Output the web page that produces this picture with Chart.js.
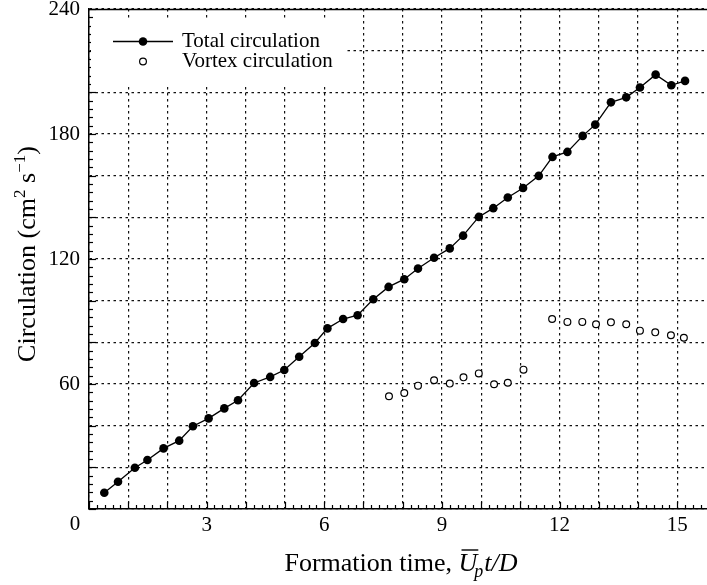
<!DOCTYPE html>
<html>
<head>
<meta charset="utf-8">
<script src="https://cdn.jsdelivr.net/npm/chart.js@4.4.1/dist/chart.umd.min.js"></script>
<style>
  html, body { margin: 0; padding: 0; background: #fff; overflow: hidden; }
  #wrap { width: 707px; height: 585px; }
</style>
</head>
<body>
<div id="wrap"><canvas id="myChart" width="707" height="585"></canvas></div>
<script>
// formation time and circulation
var totalTime = [0.39, 0.74, 1.17, 1.49, 1.90, 2.30, 2.65, 3.05, 3.45, 3.80,
                 4.21, 4.62, 4.98, 5.36, 5.76, 6.08, 6.48, 6.85, 7.25, 7.64,
                 8.04, 8.39, 8.80, 9.20, 9.54, 9.94, 10.31, 10.68, 11.07, 11.47,
                 11.82, 12.20, 12.59, 12.91, 13.31, 13.70, 14.05, 14.45, 14.85, 15.20];
var totalCirc = [7.8, 13.1, 19.8, 23.5, 29.1, 32.8, 39.7, 43.5, 48.3, 52.2,
                 60.5, 63.4, 66.7, 73.1, 79.7, 86.7, 91.2, 93.0, 100.7, 106.6,
                 110.3, 115.4, 120.6, 125.1, 131.2, 140.2, 144.4, 149.5, 154.1, 159.9,
                 169.0, 171.4, 179.1, 184.5, 195.2, 197.6, 202.3, 208.5, 203.4, 205.5];

var vortexTime = [7.65, 8.04, 8.39, 8.80, 9.20, 9.55, 9.94, 10.33, 10.68, 11.08,
                  11.81, 12.20, 12.58, 12.93, 13.31, 13.70, 14.05, 14.44, 14.84, 15.17];
var vortexCirc = [54.1, 55.7, 59.2, 61.8, 60.2, 63.2, 65.1, 59.9, 60.6, 66.9,
                  91.2, 89.8, 89.8, 88.7, 89.6, 88.7, 85.6, 84.8, 83.4, 82.2];

var xLabels = [3, 6, 9, 12, 15];
var yLabels = [60, 120, 180, 240];
var seriesNames = ['Total circulation', 'Vortex circulation'];

var FONT = '"Liberation Serif", "Times New Roman", serif';

function pts(xs, ys) {
    return xs.map(function (x, i) { return { x: x, y: ys[i] }; });
}

function noPad(s) {
    s.paddingLeft = 0; s.paddingRight = 0; s.paddingTop = 0; s.paddingBottom = 0;
}

// inward ticks, top border, legend box, titles with sub/superscripts
var decor = {
    id: 'decor',
    beforeDatasetsDraw: function (chart) {
        var c = chart.ctx, a = chart.chartArea;
        var xs = chart.scales.x, ys = chart.scales.y;
        c.save();
        c.strokeStyle = '#000';
        c.lineWidth = 1.2;
        // x ticks, minor every 0.2
        for (var i = 0; i <= 80; i++) {
            var v = i / 5;
            if (v > xs.max) break;
            var px = Math.round(xs.getPixelForValue(v)) + 0.5;
            var len = (i % 5 === 0) ? 7 : 4;
            c.beginPath(); c.moveTo(px, a.bottom); c.lineTo(px, a.bottom - len); c.stroke();
        }
        // y ticks, minor every 4
        for (var j = 0; j <= 60; j++) {
            var py = Math.round(ys.getPixelForValue(j * 4)) + 0.5;
            var ylen = (j % 5 === 0) ? 7 : 4;
            c.beginPath(); c.moveTo(a.left, py); c.lineTo(a.left + ylen, py); c.stroke();
        }
        // top border
        c.lineWidth = 1.5;
        c.beginPath(); c.moveTo(a.left, a.top + 0.5); c.lineTo(a.right, a.top + 0.5); c.stroke();

        // legend box
        c.fillStyle = '#fff';
        c.fillRect(a.left + 2, a.top + 10, 256, 67);
        c.lineWidth = 1.3;
        c.beginPath(); c.moveTo(113, 41.5); c.lineTo(173, 41.5); c.stroke();
        c.fillStyle = '#000';
        c.beginPath(); c.arc(143, 41.5, 4.3, 0, Math.PI * 2); c.fill();
        c.lineWidth = 1.2;
        c.beginPath(); c.arc(143, 61.5, 3.4, 0, Math.PI * 2); c.stroke();
        c.font = '21px ' + FONT;
        c.textBaseline = 'middle';
        c.textAlign = 'left';
        c.fillText(seriesNames[0], 182, 41);
        c.fillText(seriesNames[1], 182, 61);

        // corner zero
        c.textAlign = 'center';
        c.fillText('0', 75, 524);
        c.restore();
    },
    afterDraw: function (chart) {
        var c = chart.ctx;
        c.save();
        c.fillStyle = '#000';
        c.strokeStyle = '#000';
        c.textBaseline = 'alphabetic';
        c.textAlign = 'left';

        // x title: Formation time, U(bar)_p t/D
        var big = '26px ' + FONT, ital = 'italic 26px ' + FONT, sub = 'italic 18px ' + FONT;
        c.font = big; var w1 = c.measureText('Formation time, ').width;
        c.font = ital; var wU = c.measureText('U').width;
        c.font = sub; var wp = c.measureText('p').width;
        c.font = ital; var wt = c.measureText('t/D').width;
        var total = w1 + wU + wp + wt;
        var x0 = 402 - total / 2, base = 571;
        c.font = big; c.fillText('Formation time, ', x0, base);
        c.font = ital; c.fillText('U', x0 + w1, base);
        c.lineWidth = 1.4;
        c.beginPath(); c.moveTo(x0 + w1 + 3, base - 21); c.lineTo(x0 + w1 + wU + 1, base - 21); c.stroke();
        c.font = sub; c.fillText('p', x0 + w1 + wU - 3, base + 6);
        c.font = ital; c.fillText('t/D', x0 + w1 + wU + wp - 2, base);

        // y title: Circulation (cm^2 s^-1)
        var parts = [
            { t: 'Circulation (cm', f: big, dy: 0 },
            { t: '2', f: '17px ' + FONT, dy: -10 },
            { t: ' s', f: big, dy: 0 },
            { t: '\u22121', f: '17px ' + FONT, dy: -10 },
            { t: ')', f: big, dy: 0 }
        ];
        var tw = 0;
        parts.forEach(function (p) { c.font = p.f; p.w = c.measureText(p.t).width; tw += p.w; });
        c.translate(35, 254);
        c.rotate(-Math.PI / 2);
        var cx = -tw / 2;
        parts.forEach(function (p) { c.font = p.f; c.fillText(p.t, cx, p.dy); cx += p.w; });
        c.restore();
    }
};

var ctx = document.getElementById('myChart').getContext('2d');

var myChart = new Chart(ctx, {
    type: 'scatter',
    data: {
        datasets: [{
            label: seriesNames[0],
            data: pts(totalTime, totalCirc),
            showLine: true,
            borderColor: '#000',
            borderWidth: 1.3,
            backgroundColor: '#000',
            pointRadius: 4.3,
            pointBorderWidth: 0,
            pointBackgroundColor: '#000'
        }, {
            label: seriesNames[1],
            data: pts(vortexTime, vortexCirc),
            showLine: false,
            borderColor: '#000',
            pointRadius: 3.4,
            pointBorderWidth: 1.2,
            pointBackgroundColor: '#fff'
        }]
    },
    options: {
        responsive: false,
        animation: false,
        layout: { autoPadding: false, padding: { top: 9, right: 0, left: 0, bottom: 0 } },
        plugins: {
            legend: { display: false },
            tooltip: { enabled: false },
            title: { display: false }
        },
        scales: {
            x: {
                type: 'linear',
                min: 0,
                max: 15.76,
                afterFit: function (s) { s.height = 76; noPad(s); },
                ticks: {
                    stepSize: 1,
                    includeBounds: false,
                    autoSkip: false,
                    maxRotation: 0,
                    padding: 4,
                    color: '#000',
                    font: { family: FONT, size: 21 },
                    callback: function (v) { return xLabels.indexOf(v) >= 0 ? String(v) : ''; }
                },
                grid: { color: '#111', lineWidth: 1.2, drawTicks: false },
                border: { display: true, color: '#000', width: 1.5, dash: [2.5, 3.5] }
            },
            y: {
                min: 0,
                max: 240,
                afterFit: function (s) { s.width = 89; noPad(s); },
                ticks: {
                    stepSize: 20,
                    autoSkip: false,
                    padding: 9,
                    color: '#000',
                    font: { family: FONT, size: 21 },
                    callback: function (v) { return yLabels.indexOf(v) >= 0 ? String(v) : ''; }
                },
                grid: { color: '#111', lineWidth: 1.2, drawTicks: false },
                border: { display: true, color: '#000', width: 1.5, dash: [2.5, 3.5] }
            }
        }
    },
    plugins: [decor]
});
</script>
</body>
</html>
